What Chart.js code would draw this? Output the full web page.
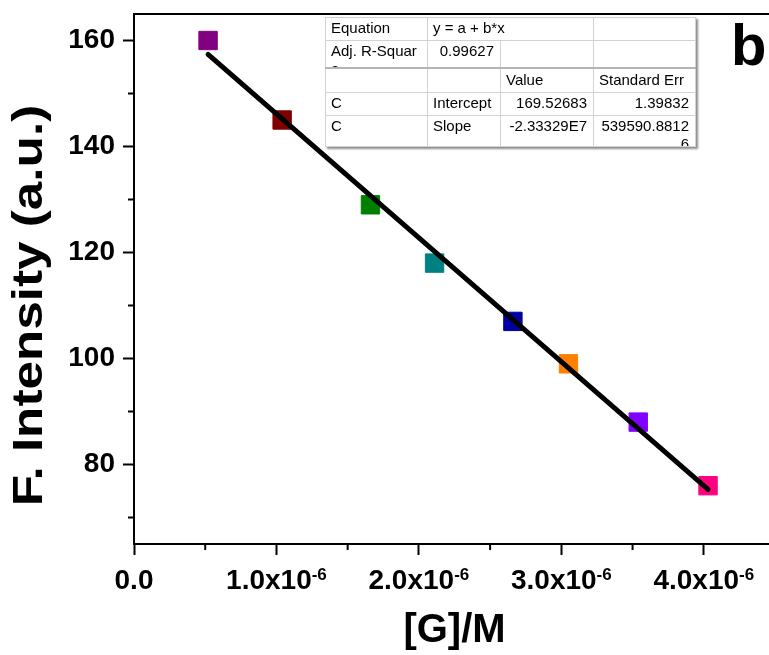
<!DOCTYPE html>
<html>
<head>
<meta charset="utf-8">
<script src="https://cdn.jsdelivr.net/npm/chart.js@4.4.0/dist/chart.umd.min.js"></script>
<style>
    html, body { margin: 0; padding: 0; background: #fff; overflow: hidden; }
    #wrap { position: relative; width: 769px; height: 655px; overflow: hidden; }
    #plot { position: absolute; left: 0; top: 0; }
    #fitTable {
        position: absolute; left: 325px; top: 17px; width: 370px;
        border-collapse: collapse; table-layout: fixed; background: #fff;
        border: 1px solid #9a9a9a;
        font: 15px 'Liberation Sans', Arial, sans-serif; color: #000;
        box-shadow: 2px 2px 2px rgba(0, 0, 0, 0.45);
    }
    #fitTable td { border: 1px solid #d2d2d2; padding: 0; vertical-align: top; }
    #fitTable td div {
        box-sizing: border-box; overflow: hidden; white-space: nowrap;
        line-height: 18px; padding: 1px 6px 0 5px;
    }
    #fitTable tr.sep td { border-bottom: 2px solid #b4b4b4; }
    #fitTable .r { text-align: right; }
    #panel { position: absolute; left: 731px; top: 16px; font: bold 58px/58px 'Liberation Sans', Arial, sans-serif; color: #000; }
</style>
</head>
<body>
<div id="wrap">
    <canvas id="plot" width="800" height="655"></canvas>
    <table id="fitTable">
        <col style="width:102px"><col style="width:73px"><col style="width:93px"><col style="width:102px">
        <tr><td><div style="height:22px">Equation</div></td><td colspan="2"><div style="height:22px">y = a + b*x</div></td><td><div style="height:22px"></div></td></tr>
        <tr class="sep"><td><div style="height:26px">Adj. R-Squar<br>e</div></td><td><div class="r" style="height:26px">0.99627</div></td><td><div style="height:26px"></div></td><td><div style="height:26px"></div></td></tr>
        <tr><td><div style="height:23px;padding-top:2px"></div></td><td><div style="height:23px;padding-top:2px"></div></td><td><div style="height:23px;padding-top:2px">Value</div></td><td><div style="height:23px;padding-top:2px">Standard Err</div></td></tr>
        <tr><td><div style="height:22px">C</div></td><td><div style="height:22px">Intercept</div></td><td><div class="r" style="height:22px">169.52683</div></td><td><div class="r" style="height:22px">1.39832</div></td></tr>
        <tr><td><div style="height:30px">C</div></td><td><div style="height:30px">Slope</div></td><td><div class="r" style="height:30px">-2.33329E7</div></td><td><div class="r" style="height:30px">539590.8812<br>6</div></td></tr>
    </table>
    <div id="panel">b</div>
</div>
<script>
// measured points, [G] in mol/L
const concentration = [0.52e-6, 1.04e-6, 1.66e-6, 2.11e-6, 2.66e-6, 3.05e-6, 3.54e-6, 4.03e-6];
const intensity = [160, 145, 129, 118, 107, 99, 88, 76];
const pointColors = ['#800080', '#800000', '#008000', '#008080', '#0000a0', '#ff8000', '#8000ff', '#ff0080'];

// ends of the linear fit line
const fitX = [0.52e-6, 4.03e-6];
const fitY = [157.4, 75.3];

// axis ticks
const xMajorTicks = [0, 1e-6, 2e-6, 3e-6, 4e-6];
const xMinorTicks = [0.5e-6, 1.5e-6, 2.5e-6, 3.5e-6];
const xTickLabels = ['0.0', '1.0x10', '2.0x10', '3.0x10', '4.0x10'];
const xTickExponents = ['', '-6', '-6', '-6', '-6'];
const yMajorTicks = [80, 100, 120, 140, 160];
const yMinorTicks = [70, 90, 110, 130, 150];
const yTitle = 'F. Intensity (a.u.)';

const FONT = "'Liberation Sans', Arial, sans-serif";

// top frame line, minor ticks, y title and x labels with superscripts
const frameAndLabels = {
    id: 'frameAndLabels',
    afterDraw(chart) {
        const { ctx, chartArea, scales: { x, y } } = chart;
        ctx.save();
        ctx.strokeStyle = '#000';
        ctx.lineWidth = 2;
        ctx.beginPath();
        ctx.moveTo(chartArea.left - 1, chartArea.top);
        ctx.lineTo(chartArea.right, chartArea.top);
        xMinorTicks.forEach(v => {
            const px = x.getPixelForValue(v);
            ctx.moveTo(px, chartArea.bottom);
            ctx.lineTo(px, chartArea.bottom + 6);
        });
        yMinorTicks.forEach(v => {
            const py = y.getPixelForValue(v);
            ctx.moveTo(chartArea.left, py);
            ctx.lineTo(chartArea.left - 6, py);
        });
        ctx.stroke();

        const mainFont = 'bold 28px ' + FONT;
        const supFont = 'bold 17px ' + FONT;
        ctx.fillStyle = '#000';
        ctx.textAlign = 'left';
        ctx.textBaseline = 'alphabetic';
        xMajorTicks.forEach((v, i) => {
            const px = x.getPixelForValue(v);
            ctx.font = mainFont;
            const wMain = ctx.measureText(xTickLabels[i]).width;
            ctx.font = supFont;
            const wSup = xTickExponents[i] ? ctx.measureText(xTickExponents[i]).width : 0;
            const start = px - (wMain + wSup) / 2;
            ctx.font = mainFont;
            ctx.fillText(xTickLabels[i], start, chartArea.bottom + 45);
            if (wSup) {
                ctx.font = supFont;
                ctx.fillText(xTickExponents[i], start + wMain, chartArea.bottom + 36);
            }
        });

        // y title, a bit stretched along its length like the original
        ctx.translate(30, y.getPixelForValue(110));
        ctx.rotate(-Math.PI / 2);
        ctx.scale(1.22, 1);
        ctx.font = 'bold 42px ' + FONT;
        ctx.textAlign = 'center';
        ctx.textBaseline = 'middle';
        ctx.fillText(yTitle, 0, 0);
        ctx.restore();
    }
};

function noEdgePadding(s) {
    s.paddingTop = 0;
    s.paddingBottom = 0;
    s.paddingLeft = 0;
    s.paddingRight = 0;
}

new Chart(document.getElementById('plot'), {
    type: 'scatter',
    data: {
        datasets: [
            {
                label: 'Linear Fit',
                data: fitX.map((v, i) => ({ x: v, y: fitY[i] })),
                showLine: true,
                borderColor: '#000',
                borderWidth: 5,
                borderCapStyle: 'round',
                pointRadius: 0,
                order: 1
            },
            {
                label: 'F. Intensity',
                data: concentration.map((v, i) => ({ x: v, y: intensity[i] })),
                pointStyle: 'rect',
                pointRadius: 13,
                pointHoverRadius: 13,
                backgroundColor: pointColors,
                borderColor: pointColors,
                borderWidth: 1,
                order: 2
            }
        ]
    },
    options: {
        responsive: false,
        animation: false,
        events: [],
        layout: { padding: { left: 0, top: 12, right: 25, bottom: 0 } },
        plugins: { legend: { display: false }, tooltip: { enabled: false } },
        scales: {
            x: {
                type: 'linear',
                min: 0,
                max: 4.5e-6,
                afterBuildTicks: s => { s.ticks = xMajorTicks.map(v => ({ value: v })); },
                afterFit: s => { s.height = 111; noEdgePadding(s); },
                ticks: { display: false },
                grid: { drawOnChartArea: false, tickLength: 11, tickWidth: 2, tickColor: '#000' },
                border: { display: true, color: '#000', width: 2 },
                title: {
                    display: true,
                    text: '[G]/M',
                    color: '#000',
                    font: { family: FONT, size: 40, weight: 'bold' },
                    padding: { top: 0, bottom: 0 }
                }
            },
            y: {
                min: 65,
                max: 165,
                afterBuildTicks: s => { s.ticks = yMajorTicks.map(v => ({ value: v })); },
                afterFit: s => { s.width = 134; noEdgePadding(s); },
                ticks: {
                    color: '#000',
                    font: { family: FONT, size: 28, weight: 'bold' },
                    padding: 8,
                    autoSkip: false
                },
                grid: { drawOnChartArea: false, tickLength: 11, tickWidth: 2, tickColor: '#000' },
                border: { display: true, color: '#000', width: 2 },
                title: { display: false }
            }
        }
    },
    plugins: [frameAndLabels]
});
</script>
</body>
</html>
